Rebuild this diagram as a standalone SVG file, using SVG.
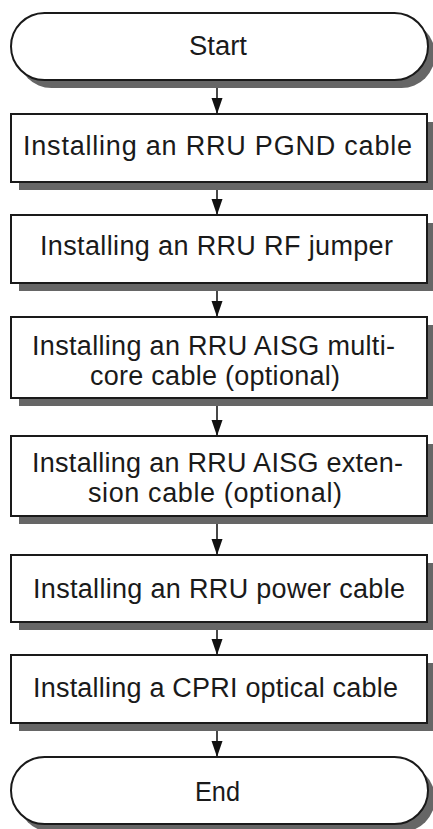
<svg xmlns="http://www.w3.org/2000/svg" width="433" height="829" viewBox="0 0 433 829">
<style>
.shadow{fill:#666666;}
.box{fill:#ffffff;stroke:#1a1a1a;stroke-width:2;}
.lbl{font-family:"Liberation Sans",Arial,sans-serif;font-size:27px;fill:#1a1a1a;text-anchor:middle;}
.conn{stroke:#1a1a1a;stroke-width:1.6;fill:none;marker-end:url(#arrow);}
</style>
<defs>
<marker id="arrow" markerUnits="userSpaceOnUse" viewBox="0 -6 16 12" markerWidth="16" markerHeight="12" refX="16" refY="0" orient="auto">
<path d="M0,-5.5 L16,0 L0,5.5 z" fill="#111111"/>
</marker>
</defs>
<rect width="433" height="829" fill="#ffffff"/>
<g id="connectors">
<line class="conn" x1="217" y1="80" x2="217" y2="114"/>
<line class="conn" x1="217" y1="182" x2="217" y2="215"/>
<line class="conn" x1="217" y1="283" x2="217" y2="317"/>
<line class="conn" x1="217" y1="398" x2="217" y2="436"/>
<line class="conn" x1="217" y1="516" x2="217" y2="555"/>
<line class="conn" x1="217" y1="622" x2="217" y2="655"/>
<line class="conn" x1="217" y1="723" x2="217" y2="757"/>
</g>
<g id="start">
<rect class="shadow" x="18" y="21" width="417" height="67" rx="33.5"/>
<rect class="box" x="11" y="13" width="417" height="67" rx="33.5"/>
<text class="lbl" x="218" y="55" textLength="58" lengthAdjust="spacingAndGlyphs">Start</text>
</g>
<g id="step1">
<rect class="shadow" x="19" y="122" width="416" height="68"/>
<rect class="box" x="11" y="114" width="416" height="68"/>
<text class="lbl" x="217.5" y="155" textLength="389" lengthAdjust="spacing">Installing an RRU PGND cable</text>
</g>
<g id="step2">
<rect class="shadow" x="19" y="223" width="416" height="68"/>
<rect class="box" x="11" y="215" width="416" height="68"/>
<text class="lbl" x="216.5" y="255" textLength="353" lengthAdjust="spacing">Installing an RRU RF jumper</text>
</g>
<g id="step3">
<rect class="shadow" x="19" y="325" width="416" height="81"/>
<rect class="box" x="11" y="317" width="416" height="81"/>
<text class="lbl" x="213.5" y="355" textLength="363" lengthAdjust="spacing">Installing an RRU AISG multi-</text>
<text class="lbl" x="215" y="385" textLength="250" lengthAdjust="spacing">core cable (optional)</text>
</g>
<g id="step4">
<rect class="shadow" x="19" y="444" width="416" height="80"/>
<rect class="box" x="11" y="436" width="416" height="80"/>
<text class="lbl" x="217.5" y="472" textLength="371" lengthAdjust="spacing">Installing an RRU AISG exten-</text>
<text class="lbl" x="215" y="502" textLength="254" lengthAdjust="spacing">sion cable (optional)</text>
</g>
<g id="step5">
<rect class="shadow" x="19" y="563" width="416" height="67"/>
<rect class="box" x="11" y="555" width="416" height="67"/>
<text class="lbl" x="219" y="598" textLength="372" lengthAdjust="spacing">Installing an RRU power cable</text>
</g>
<g id="step6">
<rect class="shadow" x="19" y="663" width="416" height="68"/>
<rect class="box" x="11" y="655" width="416" height="68"/>
<text class="lbl" x="215.5" y="697" textLength="365" lengthAdjust="spacing">Installing a CPRI optical cable</text>
</g>
<g id="end">
<rect class="shadow" x="18" y="765" width="417" height="67" rx="33.5"/>
<rect class="box" x="11" y="757" width="417" height="67" rx="33.5"/>
<text class="lbl" x="217.5" y="801" textLength="45" lengthAdjust="spacingAndGlyphs">End</text>
</g>
</svg>
